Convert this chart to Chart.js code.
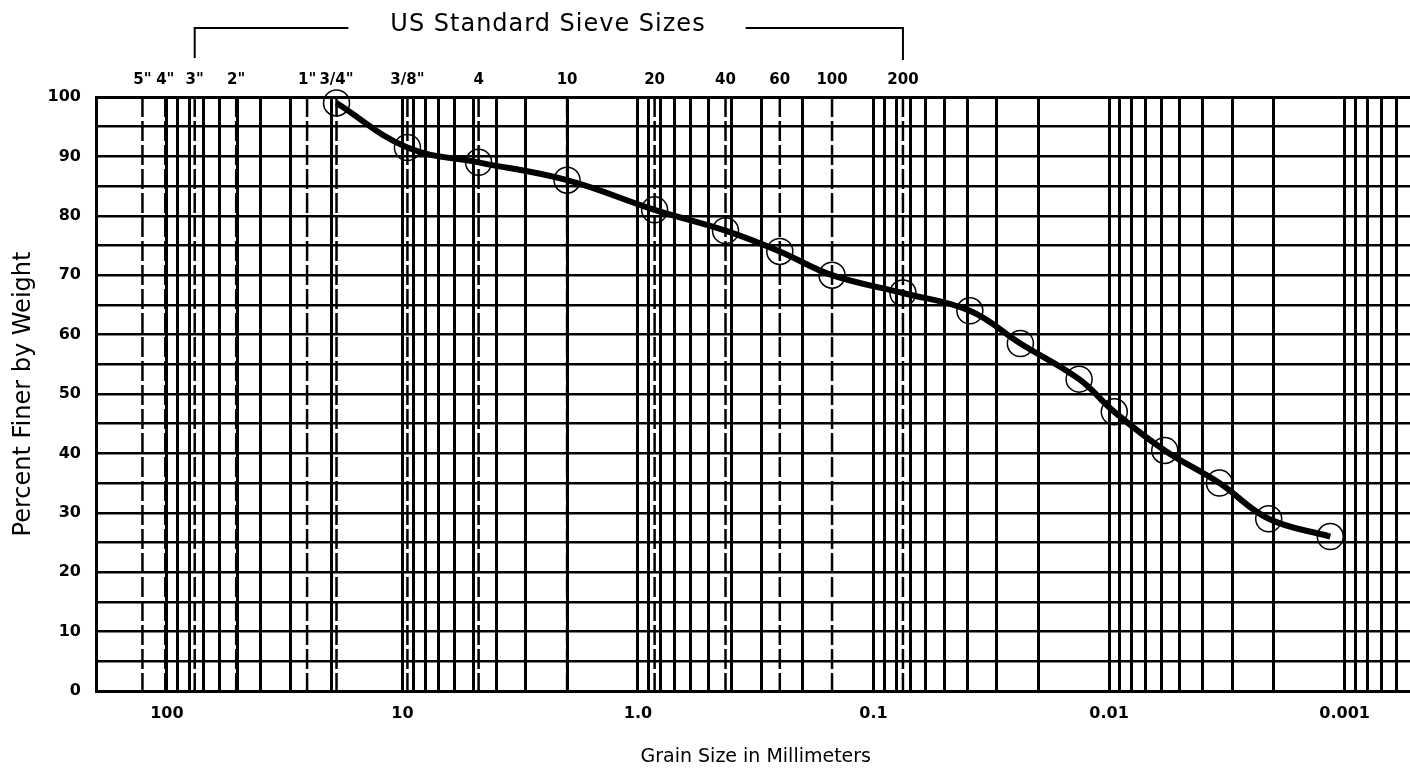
<!DOCTYPE html>
<html>
<head>
<meta charset="utf-8">
<script src="https://cdn.jsdelivr.net/npm/chart.js@4.4.0/dist/chart.umd.min.js"></script>
<style>
  html, body { margin: 0; padding: 0; background: #fff; overflow: hidden; }
  canvas { display: block; }
</style>
</head>
<body>
<canvas id="gradationChart" width="1430" height="769"></canvas>
<script>
// grain size (mm) and percent passing
const grainSizes = [19.05, 9.525, 4.75, 2.0, 0.85, 0.425, 0.25, 0.15, 0.075,
                    0.039, 0.0238, 0.0134, 0.0095, 0.0058, 0.0034, 0.0021, 0.00115];
const percentFiner = [99, 91.5, 89, 86, 81, 77.5, 74, 70, 67,
                      64, 58.5, 52.5, 47, 40.5, 35, 29, 26];

// US standard sieves along the top
const sieveLabels = ['5"', '4"', '3"', '2"', '1"', '3/4"', '3/8"', '4', '10', '20', '40', '60', '100', '200'];
const sieveSizes = [127, 101.6, 76.2, 50.8, 25.4, 19.05, 9.525, 4.75, 2.0, 0.85, 0.425, 0.25, 0.15, 0.075];

// x axis (log, reversed)
const xMajorTicks = [100, 10, 1, 0.1, 0.01, 0.001];
const xMajorLabels = ['100', '10', '1.0', '0.1', '0.01', '0.001'];
const decadeExponents = [-4, -3, -2, -1, 0, 1, 2];
const decadeSteps = [1, 2, 3, 4, 5, 6, 7, 8, 9];
const xMin = 0.0005;
const xMax = 200;

// y axis
const yTickLabels = ['0', '10', '20', '30', '40', '50', '60', '70', '80', '90', '100'];

// every 1..9 line of each decade inside the range
const xGridValues = [];
decadeExponents.forEach(e => {
    decadeSteps.forEach(s => {
        const v = parseFloat((s * Math.pow(10, e)).toPrecision(6));
        if (v >= xMin && v <= xMax) xGridValues.push(v);
    });
});

function sameValue(a, b) {
    return Math.abs(a - b) <= Math.abs(b) * 1e-6;
}

// sieve lines, sieve labels and the bracket title
const sievePlugin = {
    id: 'sieves',
    beforeDatasetsDraw(chart) {
        const { ctx, chartArea, scales } = chart;
        const x = scales.x;
        ctx.save();
        ctx.strokeStyle = '#000';
        ctx.lineWidth = 2.5;
        ctx.setLineDash([20, 4]);
        sieveSizes.forEach(s => {
            const px = x.getPixelForValue(s);
            ctx.beginPath();
            ctx.moveTo(px, chartArea.top);
            ctx.lineTo(px, chartArea.bottom);
            ctx.stroke();
        });
        ctx.setLineDash([]);

        ctx.fillStyle = '#000';
        ctx.textAlign = 'center';
        ctx.textBaseline = 'middle';
        ctx.font = 'bold 15px "DejaVu Sans"';
        sieveLabels.forEach((lab, i) => {
            ctx.fillText(lab, x.getPixelForValue(sieveSizes[i]), chartArea.top - 17);
        });

        // "US Standard Sieve Sizes" with its bracket from 3" to #200
        ctx.font = '24px "DejaVu Sans"';
        ctx.letterSpacing = '1px';
        const title = 'US Standard Sieve Sizes';
        const cx = 548, cy = 25;
        ctx.fillText(title, cx, cy);
        const w = ctx.measureText(title).width;
        const left = x.getPixelForValue(76.2);
        const right = x.getPixelForValue(0.075);
        const by = 28;
        ctx.lineWidth = 2;
        ctx.beginPath();
        ctx.moveTo(left, by + 30);
        ctx.lineTo(left, by);
        ctx.lineTo(cx - w / 2 - 42, by);
        ctx.moveTo(cx + w / 2 + 40, by);
        ctx.lineTo(right, by);
        ctx.lineTo(right, by + 32);
        ctx.stroke();
        ctx.restore();
    }
};

Chart.defaults.font.family = '"DejaVu Sans", sans-serif';
Chart.defaults.color = '#000';

const ctx = document.getElementById('gradationChart').getContext('2d');
new Chart(ctx, {
    type: 'line',
    data: {
        datasets: [{
            label: 'Percent Finer',
            data: grainSizes.map((g, i) => ({ x: g, y: percentFiner[i] })),
            borderColor: '#000',
            borderWidth: 6,
            tension: 0.4,
            pointRadius: 13,
            pointBorderWidth: 1.5,
            pointBorderColor: '#000',
            pointBackgroundColor: 'rgba(0,0,0,0)',
            clip: false,
            fill: false
        }]
    },
    options: {
        responsive: false,
        animation: false,
        devicePixelRatio: 1,
        layout: { padding: { top: 97, right: 7, left: 0, bottom: 0 } },
        plugins: {
            legend: { display: false },
            tooltip: { enabled: false }
        },
        scales: {
            x: {
                type: 'logarithmic',
                reverse: true,
                min: xMin,
                max: xMax,
                afterBuildTicks: scale => {
                    scale.ticks = xGridValues.map(v => ({ value: v }));
                },
                afterFit: scale => { scale.height = 78; },
                grid: { color: '#000', lineWidth: 3, drawTicks: false },
                border: { color: '#000', width: 3 },
                ticks: {
                    autoSkip: false,
                    maxRotation: 0,
                    minRotation: 0,
                    padding: 13,
                    font: { size: 16, weight: 'bold' },
                    callback: value => {
                        const i = xMajorTicks.findIndex(t => sameValue(value, t));
                        return i >= 0 ? xMajorLabels[i] : '';
                    }
                },
                title: {
                    display: true,
                    text: 'Grain Size in Millimeters',
                    font: { size: 19 },
                    padding: { top: 0, bottom: 1 }
                }
            },
            y: {
                min: 0,
                max: 100,
                afterFit: scale => { scale.width = 96; },
                grid: {
                    color: '#000',
                    lineWidth: c => (c.tick && c.tick.value === 100 ? 3 : 2.5),
                    drawTicks: false
                },
                border: { color: '#000', width: 3 },
                ticks: {
                    stepSize: 5,
                    autoSkip: false,
                    padding: 15,
                    font: { size: 16, weight: 'bold' },
                    callback: value => (value % 10 === 0 ? yTickLabels[value / 10] : '')
                },
                title: {
                    display: true,
                    text: 'Percent Finer by Weight',
                    font: { size: 24 },
                    padding: { top: 9, bottom: 0 }
                }
            }
        }
    },
    plugins: [sievePlugin]
});
</script>
</body>
</html>
